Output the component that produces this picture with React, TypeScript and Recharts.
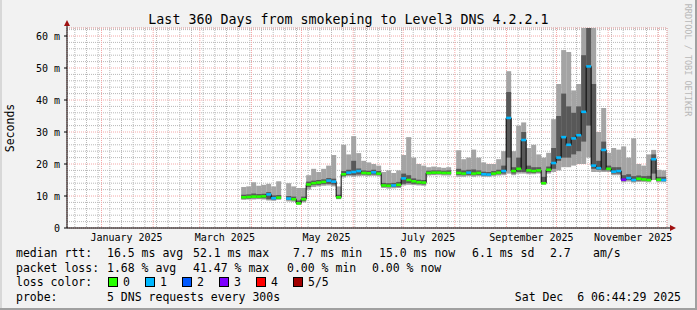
import React from 'react';
import {
  ComposedChart, Bar, Line, XAxis, YAxis, CartesianGrid, Cell, ReferenceDot,
} from 'recharts';

// days since the graph start (Dec 11 2024 06:44), one bucket every 3 days
const days = [
  106, 109, 112, 115, 118, 121, 124, 127, 130, 133, 136, 139, 142, 145, 148, 151, 154,
  157, 160, 163, 166, 169, 172, 175, 178, 181, 184, 187, 190, 193, 196, 199, 202, 205,
  208, 211, 214, 217, 220, 223, 226, 229, 232, 235, 238, 241, 244, 247, 250, 253, 256,
  259, 262, 265, 268, 271, 274, 277, 280, 283, 286, 289, 292, 295, 298, 301, 304, 307,
  310, 313, 316, 319, 322, 325, 328, 331, 334, 337, 340, 343, 346, 349, 352, 355, 358,
];

// ms values per bucket
const smokeMin = [
  8.8, 8.9, 8.9, 9.0, 8.9, 8.6, 8.5, 8.8, null, 8.3, 8.2, 7.2, 8.0, 12.0, 12.8, 13.0, 13.2,
  13.3, 13.0, 9.0, 15.8, 16.2, 16.0, 16.2, 16.3, 16.2, 16.3, 16.2, 12.5, 12.3, 12.4, 12.5, 13.3, 13.5,
  13.4, 13.3, 13.2, 16.4, 16.5, 16.5, 16.4, 16.4, null, 16.0, 16.0, 16.2, 16.0, 16.2, 16.0, 16.0, 16.2,
  16.4, 16.5, 17.0, 16.5, 17.0, 17.0, 16.8, 16.8, 17.0, 13.5, 17.0, 17.5, 18.0, 19.0, 19.0, 19.5, 20.0,
  20.0, 22.0, 17.5, 17.5, 17.5, 17.5, 16.5, 16.5, 14.3, 14.5, 14.2, 14.4, 14.4, 14.3, 15.0, 14.3, 14.3,
];
const smokeLo = [
  9.2, 9.2, 9.3, 9.3, 9.3, 9.0, 8.9, 9.1, null, 8.8, 8.7, 7.5, 8.4, 12.8, 13.4, 13.5, 13.7,
  13.8, 13.6, 9.2, 16.2, 16.6, 16.5, 16.7, 16.7, 16.6, 16.7, 16.6, 12.9, 12.8, 12.8, 12.9, 13.8, 14.0,
  13.8, 13.7, 13.6, 16.8, 16.8, 16.9, 16.8, 16.8, null, 16.6, 16.5, 16.6, 16.5, 16.6, 16.4, 16.4, 16.6,
  16.8, 17.0, 22.0, 17.0, 17.5, 17.5, 17.3, 17.2, 17.4, 13.8, 17.5, 18.5, 21.0, 22.0, 22.0, 23.0, 24.0,
  27.0, 32.0, 18.5, 18.2, 18.0, 18.0, 17.0, 17.0, 14.7, 15.0, 14.6, 14.8, 14.8, 14.7, 17.0, 14.7, 14.7,
];
const median = [
  9.6, 9.7, 9.8, 9.8, 9.9, 10.5, 9.3, 9.5, null, 9.2, 9.0, 7.7, 9.0, 13.6, 14.0, 14.2, 14.4,
  14.8, 14.5, 9.6, 16.8, 17.3, 17.5, 17.8, 17.2, 17.1, 17.4, 17.0, 13.3, 13.2, 13.3, 13.5, 15.5, 15.0,
  14.6, 14.3, 14.2, 17.2, 17.3, 17.3, 17.2, 17.2, null, 17.2, 17.0, 17.3, 17.0, 17.2, 16.8, 16.7, 17.0,
  17.3, 17.8, 34.4, 17.8, 18.5, 27.5, 18.0, 17.8, 18.0, 14.0, 18.2, 20.3, 22.0, 28.4, 26.0, 28.0, 29.0,
  36.3, 50.5, 19.5, 18.7, 24.4, 18.5, 17.6, 17.8, 15.1, 15.6, 15.0, 15.4, 15.2, 15.0, 21.5, 15.1, 15.0,
];
const smokeHi = [
  10.4, 10.5, 10.8, 10.6, 10.7, 11.2, 10.2, 10.3, null, 10.0, 9.8, 8.6, 9.8, 14.5, 14.8, 15.0, 15.2,
  15.6, 15.4, 10.4, 17.8, 18.2, 21.0, 18.6, 18.0, 17.9, 18.2, 17.8, 14.1, 14.0, 14.1, 14.4, 17.0, 16.5,
  15.5, 15.1, 15.0, 17.9, 18.0, 18.0, 17.9, 18.0, null, 18.5, 18.0, 18.2, 18.3, 18.0, 17.6, 17.5, 17.8,
  18.2, 19.5, 42.5, 19.0, 22.0, 30.0, 19.5, 19.0, 19.0, 16.0, 19.2, 25.0, 35.0, 42.0, 38.0, 36.0, 38.0,
  54.0, 62.5, 45.0, 21.0, 27.0, 19.5, 19.0, 19.0, 16.5, 16.8, 16.2, 16.4, 16.2, 16.3, 23.0, 16.0, 16.0,
];
const smokeMax = [
  12.8, 13.0, 14.3, 13.2, 13.5, 13.8, 13.0, 14.6, null, 14.0, 13.0, 12.5, 12.5, 16.5, 18.5, 17.5, 18.5,
  19.5, 22.8, 13.0, 26.0, 23.0, 28.7, 23.4, 21.0, 20.5, 20.0, 19.5, 17.5, 18.0, 17.2, 18.0, 22.8, 28.4,
  22.0, 20.0, 19.5, 19.0, 19.2, 19.0, 18.8, 19.0, null, 24.3, 21.5, 22.0, 24.5, 22.0, 20.5, 20.0, 20.0,
  21.5, 24.0, 49.0, 24.0, 32.0, 33.0, 25.0, 26.0, 23.0, 22.0, 23.5, 34.0, 45.0, 55.6, 55.0, 43.0, 45.0,
  62.5, 62.5, 62.5, 30.0, 37.5, 23.5, 25.0, 24.5, 25.5, 22.0, 28.0, 20.0, 19.5, 23.0, 24.4, 18.2, 18.0,
];
// lost pings out of 5
const lossLevel = [
  0, 0, 0, 0, 0, 1, 1, 0, 0, 1, 0, 0, 0, 0, 0, 0, 0,
  1, 1, 0, 0, 1, 1, 1, 0, 0, 1, 0, 0, 0, 1, 0, 1, 0,
  0, 0, 0, 0, 0, 0, 0, 0, 0, 0, 0, 1, 0, 0, 1, 1, 0,
  0, 1, 1, 0, 0, 1, 0, 0, 0, 0, 0, 1, 1, 1, 1, 1, 1,
  1, 1, 1, 1, 1, 0, 1, 1, 3, 1, 1, 0, 0, 0, 1, 0, 1,
];

const lossColors = ['#26ff00', '#00b8ff', '#0059ff', '#7e00ff', '#ff0000', '#a10000'];
const lossLabels = ['0', '1', '2', '3', '4', '5/5'];

const monthStarts = [20.7, 51.7, 79.7, 110.7, 140.7, 171.7, 201.7, 232.7, 263.7, 293.7, 324.7, 354.7];
const weekStarts = [
  4.7, 11.7, 18.7, 25.7, 32.7, 39.7, 46.7, 53.7, 60.7, 67.7, 74.7, 81.7, 88.7, 95.7, 102.7,
  109.7, 116.7, 123.7, 130.7, 137.7, 144.7, 151.7, 158.7, 165.7, 172.7, 179.7, 186.7, 193.7,
  200.7, 207.7, 214.7, 221.7, 228.7, 235.7, 242.7, 249.7, 256.7, 263.7, 270.7, 277.7, 284.7,
  291.7, 298.7, 305.7, 312.7, 319.7, 326.7, 333.7, 340.7, 347.7, 354.7,
];
const labelDays = [35.7, 94.7, 155.7, 216.7, 278.7, 339.7];
const labelNames = ['January 2025', 'March 2025', 'May 2025', 'July 2025', 'September 2025', 'November 2025'];
const yMajor = [0, 10, 20, 30, 40, 50, 60];
const yMinor = [2, 4, 6, 8, 12, 14, 16, 18, 22, 24, 26, 28, 32, 34, 36, 38, 42, 44, 46, 48, 52, 54, 56, 58, 62];

const rttLine: [string, number][] = [
  ['median rtt:', 16], ['16.5 ms avg', 107], ['52.1 ms max', 193], ['7.7 ms min', 293],
  ['15.0 ms now', 379], ['6.1 ms sd', 472], ['2.7', 550], ['am/s', 593],
];
const lossLine: [string, number][] = [
  ['packet loss:', 16], ['1.68 % avg', 107], ['41.47 % max', 193], ['0.00 % min', 287], ['0.00 % now', 372],
];
const boxX = [108, 145, 182, 219, 256, 293];

const rows = days.map((d, i) => ({
  d,
  min: smokeMin[i],
  lo: smokeLo[i],
  med: median[i],
  hi: smokeHi[i],
  max: smokeMax[i],
  loss: lossLevel[i],
}));

const FONT = '"DejaVu Sans Mono", monospace';
const YMAX = 62.5;

function Txt({ x, y, size = 11.5, children }: any) {
  return (
    <div style={{ position: 'absolute', left: x, top: y - 8, lineHeight: '16px', fontSize: size, whiteSpace: 'pre' }}>
      {children}
    </div>
  );
}

export default function App() {
  return (
    <div style={{
      position: 'absolute', left: 0, top: 0, width: 697, height: 310, background: '#f2f2f2',
      fontFamily: FONT, color: '#000', overflow: 'hidden',
    }}>
      <ComposedChart
        width={697}
        height={310}
        data={rows}
        margin={{ top: 28, right: 30, bottom: 62, left: 7 }}
        barCategoryGap={0}
        barGap={0}
      >
        <XAxis
          xAxisId="t"
          type="number"
          dataKey="d"
          domain={[0, 360]}
          ticks={labelDays}
          tickFormatter={(v: number) => labelNames[labelDays.indexOf(v)] ?? ''}
          tick={{ fontSize: 10, fill: '#000', fontFamily: FONT }}
          tickLine={false}
          tickSize={4}
          tickMargin={2}
          axisLine={{ stroke: '#000' }}
          height={20}
          interval={0}
          allowDataOverflow
        />
        <YAxis
          type="number"
          domain={[0, YMAX]}
          ticks={yMajor}
          width={60}
          tickFormatter={(v: number) => (v === 0 ? '0' : `${v} m`)}
          tick={{ fontSize: 10, fill: '#000', fontFamily: FONT }}
          tickSize={3}
          tickMargin={4}
          tickLine={{ stroke: '#000' }}
          axisLine={{ stroke: '#000' }}
          interval={0}
          allowDataOverflow
        />
        <XAxis xAxisId="minor" type="number" dataKey="d" domain={[0, 360]} ticks={weekStarts} interval={0} hide height={0} allowDataOverflow />
        <XAxis xAxisId="major" type="number" dataKey="d" domain={[0, 360]} ticks={monthStarts} interval={0} hide height={0} allowDataOverflow />
        <XAxis xAxisId="s1" type="number" dataKey="d" domain={[0, 360]} hide height={0} allowDataOverflow />
        <XAxis xAxisId="s2" type="number" dataKey="d" domain={[0, 360]} hide height={0} allowDataOverflow />
        <XAxis xAxisId="s3" type="number" dataKey="d" domain={[0, 360]} hide height={0} allowDataOverflow />
        <YAxis yAxisId="minor" type="number" domain={[0, YMAX]} ticks={yMinor} interval={0} hide width={0} allowDataOverflow />
        <YAxis yAxisId="major" type="number" domain={[0, YMAX]} ticks={yMajor} interval={0} hide width={0} allowDataOverflow />

        <CartesianGrid xAxisId="minor" yAxisId="minor" stroke="#b8b8b8" strokeDasharray="1 1" fill="#ffffff" fillOpacity={1} />
        <CartesianGrid xAxisId="major" yAxisId="major" stroke="#f4a8a8" strokeDasharray="1 1" />

        <Bar
          xAxisId="s1"
          dataKey={(r: any) => (r.max == null ? null : [r.min, r.max])}
          fill="#a4a4a4"
          isAnimationActive={false}
          zIndex={300}
        />
        <Bar
          xAxisId="s2"
          dataKey={(r: any) => (r.hi == null ? null : [r.lo, r.hi])}
          fill="#585858"
          isAnimationActive={false}
          zIndex={301}
        />
        <Line
          xAxisId="s3"
          dataKey="med"
          type="step"
          stroke="#000"
          strokeWidth={1}
          dot={false}
          activeDot={false}
          connectNulls={false}
          isAnimationActive={false}
          zIndex={302}
        />
        <Bar
          xAxisId="s3"
          dataKey={(r: any) => (r.med == null ? null : [r.med - 0.4, r.med + 0.4])}
          isAnimationActive={false}
          zIndex={303}
        >
          {rows.map((r, i) => <Cell key={i} fill={lossColors[r.loss]} />)}
        </Bar>

        <ReferenceDot
          xAxisId="t"
          x={360}
          y={0}
          r={0}
          ifOverflow="visible"
          shape={(p: any) => (
            <g>
              <path d={`M${p.cx},${p.cy}H${p.cx + 4}`} stroke="#000" />
              <path d={`M${p.cx + 3},${p.cy - 3}L${p.cx + 9},${p.cy}L${p.cx + 3},${p.cy + 3}Z`} fill="#a01010" />
            </g>
          )}
        />
        <ReferenceDot
          xAxisId="t"
          x={0}
          y={YMAX}
          r={0}
          ifOverflow="visible"
          shape={(p: any) => (
            <g>
              <path d={`M${p.cx},${p.cy}V${p.cy - 3}`} stroke="#000" />
              <path d={`M${p.cx - 3},${p.cy - 2}L${p.cx},${p.cy - 8}L${p.cx + 3},${p.cy - 2}Z`} fill="#a01010" />
            </g>
          )}
        />
      </ComposedChart>

      <div style={{
        position: 'absolute', left: 0, top: 11, width: 697, textAlign: 'center', fontSize: 13.3,
        lineHeight: '17px', whiteSpace: 'pre',
      }}>
        Last 360 Days from smokeping to Level3 DNS 4.2.2.1
      </div>
      <div style={{
        position: 'absolute', left: 10, top: 128, transform: 'translate(-50%, -50%) rotate(-90deg)',
        fontSize: 11.5, whiteSpace: 'pre',
      }}>
        Seconds
      </div>
      <div style={{
        position: 'absolute', left: 688, top: 60, transform: 'translate(-50%, -50%) rotate(90deg)',
        fontSize: 8.5, color: '#b8b8b8', whiteSpace: 'pre',
      }}>
        RRDTOOL / TOBI OETIKER
      </div>

      {rttLine.map(([t, x]) => <Txt key={t} x={x} y={253}>{t}</Txt>)}
      {lossLine.map(([t, x]) => <Txt key={t} x={x} y={268}>{t}</Txt>)}
      <Txt x={16} y={282}>loss color:</Txt>
      {lossLabels.map((l, i) => (
        <React.Fragment key={l}>
          <div style={{
            position: 'absolute', left: boxX[i], top: 277, width: 8, height: 8,
            background: lossColors[i], border: '1px solid #000',
          }} />
          <Txt x={boxX[i] + 15} y={282}>{l}</Txt>
        </React.Fragment>
      ))}
      <Txt x={16} y={297}>probe:</Txt>
      <Txt x={107} y={297}>5 DNS requests every 300s</Txt>
      <div style={{
        position: 'absolute', right: 16, top: 289, lineHeight: '16px', fontSize: 11.5, whiteSpace: 'pre',
      }}>
        Sat Dec  6 06:44:29 2025
      </div>

      <div style={{ position: 'absolute', left: 0, top: 0, width: 2, height: 310, background: '#d8d8d8' }} />
      <div style={{ position: 'absolute', right: 0, top: 0, width: 2, height: 310, background: '#a0a0a0' }} />
      <div style={{ position: 'absolute', left: 0, bottom: 0, width: 697, height: 2, background: '#a0a0a0' }} />
    </div>
  );
}
